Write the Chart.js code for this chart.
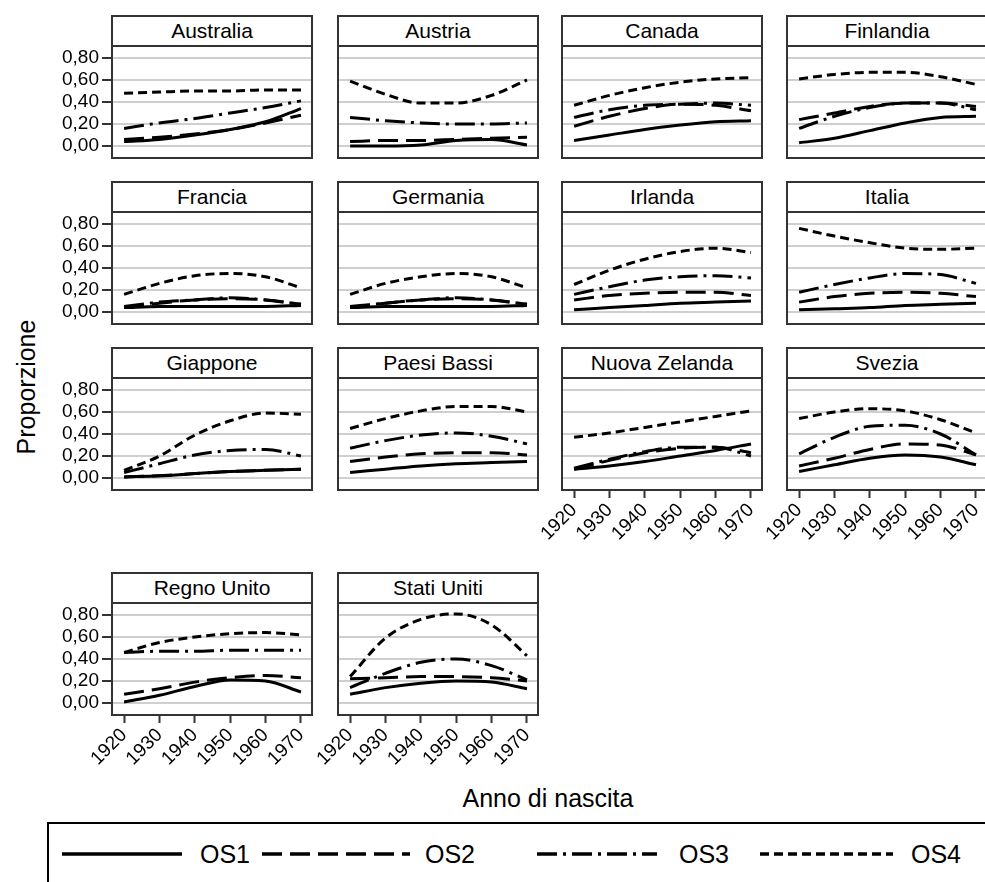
<!DOCTYPE html>
<html>
<head>
<meta charset="utf-8">
<script src="https://cdn.jsdelivr.net/npm/chart.js@4.4.0/dist/chart.umd.min.js"></script>
<style>
    body {
        margin: 0;
        width: 985px;
        height: 882px;
        overflow: hidden;
        background: #fff;
        position: relative;
        font-family: 'Liberation Sans', Arial, sans-serif;
        color: #000;
    }
    .strip {
        position: absolute;
        box-sizing: border-box;
        width: 202px;
        height: 32px;
        border: 2px solid #333;
        text-align: center;
        font-size: 21px;
        line-height: 28px;
        background: #fff;
    }
    .panel { position: absolute; }
    .axis-title { position: absolute; font-size: 25px; white-space: nowrap; }
    .legend {
        position: absolute;
        left: 47px;
        top: 822px;
        width: 1000px;
        height: 100px;
        border: 2px solid #000;
        box-sizing: border-box;
    }
    .legend span { position: absolute; font-size: 25px; top: 16px; }
    .legend svg { position: absolute; left: 0; top: 0; }
</style>
</head>
<body>
<div id="panels"></div>
<div class="axis-title" style="left:26px; top:387px; transform: translate(-50%, -50%) rotate(-90deg);">Proporzione</div>
<div class="axis-title" style="left:548px; top:798px; transform: translate(-50%, -50%);">Anno di nascita</div>
<div class="legend">
    <svg width="1000" height="80">
        <line x1="13" y1="30" x2="133" y2="30" stroke="#000" stroke-width="3.5"></line>
        <line x1="213" y1="30" x2="361" y2="30" stroke="#000" stroke-width="3.5" stroke-dasharray="20 8"></line>
        <line x1="488" y1="30" x2="608" y2="30" stroke="#000" stroke-width="3.5" stroke-dasharray="20 6 3 6"></line>
        <line x1="711" y1="30" x2="844" y2="30" stroke="#000" stroke-width="3.5" stroke-dasharray="9 5"></line>
    </svg>
    <span style="left:151px;">OS1</span>
    <span style="left:376px;">OS2</span>
    <span style="left:630px;">OS3</span>
    <span style="left:862px;">OS4</span>
</div>

<script>
const years = [1920, 1930, 1940, 1950, 1960, 1970];
const xTicks = [1920, 1930, 1940, 1950, 1960, 1970];
const yTicks = [0, 0.2, 0.4, 0.6, 0.8];

const countries = ['Australia', 'Austria', 'Canada', 'Finlandia',
    'Francia', 'Germania', 'Irlanda', 'Italia',
    'Giappone', 'Paesi Bassi', 'Nuova Zelanda', 'Svezia',
    'Regno Unito', 'Stati Uniti'];

// one row per country, values at the years above
const os1 = [
    [0.04, 0.06, 0.10, 0.15, 0.22, 0.34],
    [0.00, 0.00, 0.01, 0.05, 0.06, 0.01],
    [0.05, 0.10, 0.15, 0.19, 0.22, 0.23],
    [0.03, 0.07, 0.14, 0.21, 0.26, 0.27],
    [0.04, 0.05, 0.05, 0.05, 0.05, 0.06],
    [0.04, 0.05, 0.05, 0.05, 0.05, 0.06],
    [0.02, 0.04, 0.06, 0.08, 0.09, 0.10],
    [0.02, 0.03, 0.04, 0.06, 0.07, 0.08],
    [0.01, 0.02, 0.04, 0.06, 0.07, 0.08],
    [0.05, 0.08, 0.11, 0.13, 0.14, 0.15],
    [0.08, 0.11, 0.15, 0.20, 0.25, 0.31],
    [0.06, 0.12, 0.18, 0.21, 0.19, 0.12],
    [0.01, 0.07, 0.15, 0.21, 0.20, 0.10],
    [0.08, 0.14, 0.18, 0.20, 0.19, 0.13]
];
const os2 = [
    [0.06, 0.08, 0.11, 0.15, 0.21, 0.28],
    [0.04, 0.05, 0.05, 0.06, 0.07, 0.08],
    [0.18, 0.27, 0.34, 0.38, 0.37, 0.32],
    [0.24, 0.30, 0.36, 0.39, 0.39, 0.36],
    [0.04, 0.08, 0.11, 0.12, 0.11, 0.07],
    [0.04, 0.08, 0.11, 0.12, 0.11, 0.07],
    [0.11, 0.15, 0.17, 0.18, 0.18, 0.15],
    [0.09, 0.14, 0.17, 0.18, 0.17, 0.14],
    [0.01, 0.02, 0.04, 0.06, 0.07, 0.08],
    [0.15, 0.19, 0.22, 0.23, 0.23, 0.21],
    [0.08, 0.16, 0.23, 0.27, 0.28, 0.23],
    [0.11, 0.18, 0.26, 0.31, 0.30, 0.21],
    [0.08, 0.13, 0.19, 0.23, 0.25, 0.23],
    [0.22, 0.23, 0.24, 0.24, 0.23, 0.20]
];
const os3 = [
    [0.16, 0.21, 0.25, 0.30, 0.35, 0.41],
    [0.26, 0.23, 0.21, 0.20, 0.20, 0.21],
    [0.26, 0.33, 0.37, 0.38, 0.39, 0.37],
    [0.16, 0.27, 0.35, 0.39, 0.39, 0.33],
    [0.05, 0.09, 0.11, 0.13, 0.11, 0.07],
    [0.05, 0.08, 0.11, 0.13, 0.11, 0.07],
    [0.16, 0.23, 0.29, 0.32, 0.33, 0.31],
    [0.18, 0.25, 0.31, 0.35, 0.34, 0.26],
    [0.05, 0.13, 0.21, 0.25, 0.26, 0.20],
    [0.27, 0.34, 0.39, 0.41, 0.38, 0.31],
    [0.09, 0.17, 0.24, 0.28, 0.28, 0.20],
    [0.22, 0.37, 0.47, 0.48, 0.40, 0.21],
    [0.46, 0.47, 0.47, 0.48, 0.48, 0.48],
    [0.14, 0.27, 0.37, 0.40, 0.34, 0.21]
];
const os4 = [
    [0.48, 0.49, 0.50, 0.50, 0.51, 0.51],
    [0.59, 0.47, 0.39, 0.39, 0.46, 0.60],
    [0.37, 0.46, 0.53, 0.58, 0.61, 0.62],
    [0.61, 0.65, 0.67, 0.67, 0.63, 0.56],
    [0.16, 0.26, 0.33, 0.35, 0.32, 0.22],
    [0.16, 0.26, 0.32, 0.35, 0.32, 0.22],
    [0.25, 0.38, 0.48, 0.55, 0.58, 0.54],
    [0.76, 0.69, 0.63, 0.58, 0.57, 0.58],
    [0.07, 0.20, 0.39, 0.52, 0.59, 0.58],
    [0.45, 0.54, 0.61, 0.65, 0.65, 0.60],
    [0.37, 0.41, 0.46, 0.51, 0.56, 0.61],
    [0.54, 0.60, 0.63, 0.61, 0.53, 0.41],
    [0.46, 0.55, 0.60, 0.63, 0.64, 0.62],
    [0.24, 0.59, 0.76, 0.81, 0.71, 0.43]
];

const seriesStyles = [
    { data: os1, dash: [] },
    { data: os2, dash: [20, 8] },
    { data: os3, dash: [20, 6, 3, 6] },
    { data: os4, dash: [9, 5] }
];

// layout of the grid of small plots
const colLeft = [111, 337, 561, 786];
const rowTop = [15, 181, 347, 572];
const PLOT_W = 202, PLOT_H = 114, STRIP_H = 30, Y_AXIS_W = 70, X_AXIS_H = 60;
const bottomPanels = [10, 11, 12, 13];

Chart.defaults.font.family = "'Liberation Sans', Arial, sans-serif";
Chart.defaults.color = '#000';

const framePlugin = {
    id: 'frame',
    afterDatasetsDraw(chart) {
        const a = chart.chartArea;
        const ctx = chart.ctx;
        ctx.save();
        ctx.strokeStyle = '#333';
        ctx.lineWidth = 2;
        ctx.strokeRect(a.left + 1, a.top + 1, a.right - a.left - 2, a.bottom - a.top - 2);
        ctx.restore();
    }
};

function fmtTick(v) {
    return v.toFixed(2).replace('.', ',');
}

function buildPanel(i) {
    const row = Math.floor(i / 4);
    const col = i % 4;
    const left = colLeft[col];
    const top = rowTop[row];
    const showY = col === 0;
    const showX = bottomPanels.includes(i);
    const container = document.getElementById('panels');

    const strip = document.createElement('div');
    strip.className = 'strip';
    strip.style.left = left + 'px';
    strip.style.top = top + 'px';
    strip.textContent = countries[i];

    const wrap = document.createElement('div');
    wrap.className = 'panel';
    wrap.style.left = (left - Y_AXIS_W) + 'px';
    wrap.style.top = (top + STRIP_H) + 'px';
    const canvas = document.createElement('canvas');
    canvas.width = Y_AXIS_W + PLOT_W;
    canvas.height = PLOT_H + X_AXIS_H;
    wrap.appendChild(canvas);
    container.appendChild(wrap);
    container.appendChild(strip);

    new Chart(canvas.getContext('2d'), {
        type: 'line',
        data: {
            datasets: seriesStyles.map((s, k) => ({
                label: 'OS' + (k + 1),
                data: years.map((yr, j) => ({ x: yr, y: s.data[i][j] })),
                borderColor: '#000',
                borderWidth: 3,
                borderDash: s.dash,
                pointRadius: 0,
                fill: false,
                cubicInterpolationMode: 'monotone'
            }))
        },
        options: {
            responsive: false,
            animation: false,
            devicePixelRatio: 1,
            layout: { padding: 0 },
            plugins: {
                legend: { display: false },
                tooltip: { enabled: false }
            },
            scales: {
                x: {
                    type: 'linear',
                    min: 1916.3,
                    max: 1973.4,
                    afterBuildTicks: scale => { scale.ticks = xTicks.map(v => ({ value: v })); },
                    afterFit: scale => {
                        scale.height = X_AXIS_H;
                        scale.paddingLeft = 0;
                        scale.paddingRight = 0;
                    },
                    border: { display: false },
                    grid: {
                        display: showX,
                        drawOnChartArea: false,
                        drawTicks: showX,
                        tickLength: 7,
                        tickColor: '#333',
                        tickWidth: 2
                    },
                    ticks: {
                        display: showX,
                        autoSkip: false,
                        minRotation: 45,
                        maxRotation: 45,
                        padding: 1,
                        font: { size: 19 },
                        callback: v => String(v)
                    }
                },
                y: {
                    min: -0.118,
                    max: 0.918,
                    afterBuildTicks: scale => { scale.ticks = yTicks.map(v => ({ value: v })); },
                    afterFit: scale => {
                        scale.width = Y_AXIS_W;
                        scale.paddingTop = 0;
                        scale.paddingBottom = 0;
                    },
                    border: { display: false },
                    grid: {
                        color: '#cfcfcf',
                        lineWidth: 2,
                        drawTicks: showY,
                        tickLength: 9,
                        tickColor: '#333',
                        tickWidth: 2
                    },
                    ticks: {
                        display: showY,
                        padding: 3,
                        font: { size: 19 },
                        callback: v => fmtTick(v)
                    }
                }
            }
        },
        plugins: [framePlugin]
    });
}

document.addEventListener('DOMContentLoaded', function() {
    countries.forEach((c, i) => buildPanel(i));
});
</script>
</body>
</html>
